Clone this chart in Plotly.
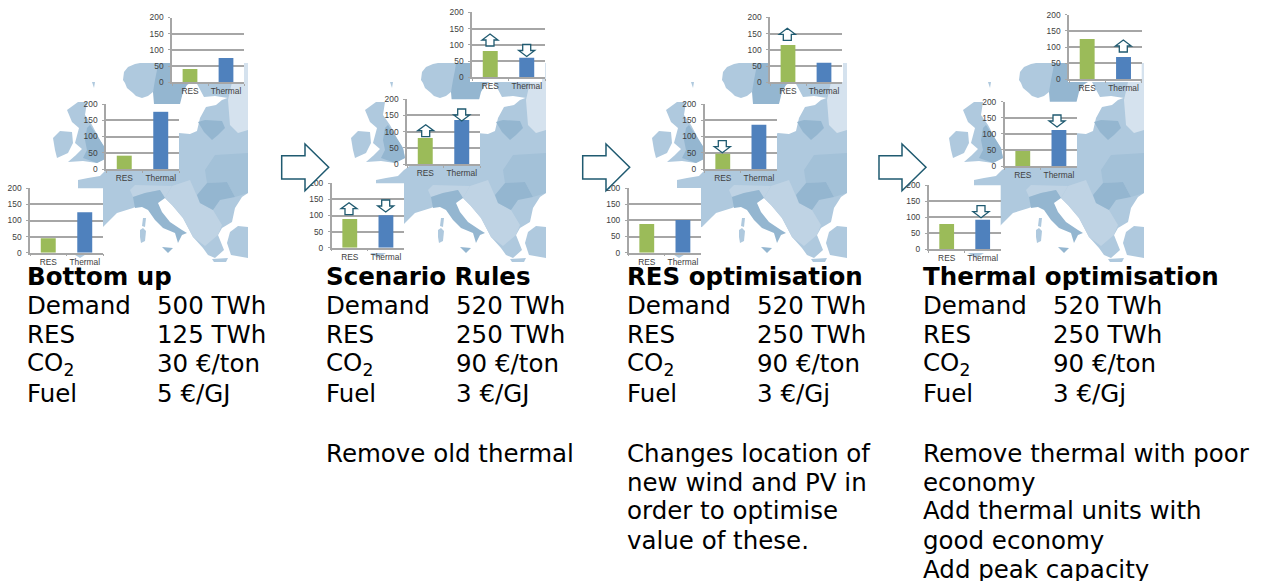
import plotly.graph_objects as go

W, H = 1264, 581

# ---------- data ----------
CATEGORIES = ["RES", "Thermal"]
Y_TICKS = [0, 50, 100, 150, 200]

BOTTOM_UP_TOP = [41, 75]
BOTTOM_UP_MID = [41, 176]
BOTTOM_UP_LOW = [45, 126]
SCENARIO_TOP = [81, 60]
SCENARIO_MID = [80, 136]
SCENARIO_LOW = [89, 101]
RES_OPT_TOP = [115, 60]
RES_OPT_MID = [47, 136]
RES_OPT_LOW = [89, 101]
THERMAL_OPT_TOP = [125, 69]
THERMAL_OPT_MID = [47, 112]
THERMAL_OPT_LOW = [79, 92]

ROW_LABELS = ["Demand", "RES", "CO<sub>2</sub>", "Fuel"]
TITLES = ["Bottom up", "Scenario Rules", "RES optimisation", "Thermal optimisation"]
VALUES = [
    ["500 TWh", "125 TWh", "30 €/ton", "5 €/GJ"],
    ["520 TWh", "250 TWh", "90 €/ton", "3 €/GJ"],
    ["520 TWh", "250 TWh", "90 €/ton", "3 €/Gj"],
    ["520 TWh", "250 TWh", "90 €/ton", "3 €/Gj"],
]
NOTES = [
    [],
    ["Remove old thermal"],
    ["Changes location of", "new wind and PV in", "order to optimise", "value of these."],
    ["Remove thermal with poor", "economy", "Add thermal units with", "good economy", "Add peak capacity"],
]

# ---------- layout geometry (pixels) ----------
# chart boxes: left, right, y of 200, y of 0
CHARTS = [
    (172, 244, 17.5, 82.3, BOTTOM_UP_TOP), (106, 179, 104, 169, BOTTOM_UP_MID), (30, 103, 188.3, 252.7, BOTTOM_UP_LOW),
    (472, 545, 12.3, 77.3, SCENARIO_TOP), (407, 480, 99.3, 164, SCENARIO_MID), (331.7, 404, 183.3, 247.7, SCENARIO_LOW),
    (770, 842, 17.3, 82.3, RES_OPT_TOP), (704.7, 777, 104, 169, RES_OPT_MID), (628.7, 701, 188, 252.7, RES_OPT_LOW),
    (1069, 1141.7, 14.7, 79.3, THERMAL_OPT_TOP), (1004.7, 1077, 101.7, 166, THERMAL_OPT_MID), (928.7, 1000.7, 185.3, 249.3, THERMAL_OPT_LOW),
]
TEXT_X = [(26, 156), (325, 455), (626, 756), (922, 1052)]
ROW_Y = [276, 305, 334.5, 363.5, 393]
NOTE_Y = [453, 482, 511, 540, 569]
MAP_OFFSET = [0, 298, 599, 896]
BIG_ARROWS = [(281.7, 305, 328.7), (582.7, 606, 629.7), (879, 902, 926)]
# small arrows: centre x, top y, "u"/"d"
SMALL_ARROWS = [
    (490, 34, "u"), (526.7, 44.5, "d"), (425.7, 124.7, "u"), (461.7, 109, "d"), (349, 202.7, "u"), (385.7, 200, "d"),
    (787.3, 28.3, "u"), (722.3, 140.7, "d"),
    (1123.3, 40, "u"), (1057, 115, "d"), (981, 205.7, "d"),
]

# ---------- decorative map outlines, in pixels of the first panel ----------
BASE = "#AFC9DE"
DARK = "#94B6D0"
MID = "#A3C1D8"
LIGHT = "#BFD3E4"
PALE = "#D5E2EE"
MAP_REGIONS = [
    (BASE, [(123, 80), (124, 72), (128, 67), (135, 64), (140, 63), (162, 63), (172, 63), (172, 82), (158, 82), (153, 92),
            (148, 96), (142, 98), (136, 96), (133, 93), (127, 88), (125, 83)]),
    (DARK, [(158, 63), (172, 63), (172, 82), (192, 82), (187, 85), (183, 92), (180, 104), (154, 104), (153, 92), (155, 80), (157, 70)]),
    (BASE, [(196, 82), (240, 82), (246, 95), (228, 98), (215, 96), (204, 97)]),
    (BASE, [(78, 180), (88, 178), (100, 176), (106, 170), (120, 160), (179, 133), (190, 134), (197, 131), (200, 118),
            (206, 107), (216, 105), (222, 100), (230, 97), (248, 95), (248, 193), (242, 197), (235, 208), (232, 222),
            (222, 228), (218, 235), (224, 250), (215, 258), (208, 255), (203, 248), (193, 237), (183, 218), (172, 205),
            (165, 198), (150, 200), (133, 208), (117, 213), (103, 227), (95, 228), (80, 215), (78, 200)]),
    (PALE, [(244, 63), (248, 63), (248, 130), (238, 133), (230, 125), (228, 100), (232, 82), (244, 82)]),
    (MID, [(205, 170), (215, 155), (248, 153), (248, 193), (235, 197), (227, 182), (207, 183)]),
    (LIGHT, [(165, 198), (172, 186), (190, 180), (200, 203), (213, 210), (222, 225), (218, 235), (205, 246), (193, 237), (183, 218), (172, 205)]),
    (LIGHT, [(130, 190), (135, 185), (172, 186), (165, 198), (160, 190), (145, 193), (133, 197)]),
    (DARK, [(197, 195), (207, 183), (227, 182), (235, 197), (220, 200), (213, 210), (200, 203)]),
    (DARK, [(198, 122), (205, 120), (222, 121), (225, 128), (218, 135), (212, 140), (204, 132)]),
    (DARK, [(133, 197), (145, 193), (160, 190), (165, 198), (158, 203), (162, 212), (170, 222), (182, 230), (187, 233),
            (182, 235), (178, 243), (175, 233), (163, 228), (155, 220), (148, 210), (142, 207), (135, 208)]),
    (DARK, [(162, 247), (173, 248), (168, 253)]),
    (BASE, [(140, 230), (143, 228), (146, 231), (145, 241), (141, 243), (140, 237)]),
    (BASE, [(143, 218), (146, 218), (145, 227), (142, 226)]),
    (BASE, [(248, 227), (238, 226), (230, 232), (227, 243), (231, 255), (248, 258)]),
    (BASE, [(212, 259), (228, 258), (226, 262), (214, 262)]),
    (BASE, [(72, 253), (88, 253), (80, 258)]),
    (BASE, [(78, 102), (87, 102), (85, 115), (92, 125), (100, 140), (105, 148), (107, 158), (97, 163), (83, 161), (68, 162),
            (76, 155), (82, 149), (75, 143), (79, 128), (72, 122), (67, 110)]),
    (DARK, [(90, 125), (100, 140), (105, 148), (107, 158), (97, 163), (83, 158), (87, 150), (85, 140), (87, 128)]),
    (BASE, [(53, 138), (60, 131), (72, 132), (73, 143), (68, 153), (57, 158), (55, 150)]),
    (BASE, [(92, 82), (95, 82), (94, 88)]),
]


def px(x):
    return x / W


def py(y):
    return 1 - y / H


def path(points):
    return "M" + "L".join(f"{px(x):.5f},{py(y):.5f}" for x, y in points) + "Z"


shapes = []
for off in MAP_OFFSET:
    for color, pts in MAP_REGIONS:
        shapes.append(dict(type="path", xref="paper", yref="paper", layer="below",
                           path=path([(x + off, y) for x, y in pts]),
                           fillcolor=color, line=dict(width=0)))

fig = go.Figure()
layout = {}
TICK_FONT = dict(family="Liberation Sans", size=8.4, color="#404040")
GRID = "#A6A6A6"
for i, (left, right, top, bottom, values) in enumerate(CHARTS):
    n = "" if i == 0 else str(i + 1)
    fig.add_trace(go.Bar(x=CATEGORIES, y=values, width=0.41,
                         marker=dict(color=["#9BBB59", "#4F81BD"], line=dict(width=0)),
                         xaxis="x" + n, yaxis="y" + n, showlegend=False))
    layout["xaxis" + n] = dict(
        domain=[px(left), px(right)], anchor="y" + n, type="category", tickson="boundaries", automargin=False,
        ticks="outside", ticklen=2, tickcolor=GRID, showline=True, linecolor=GRID, linewidth=1.5,
        showgrid=False, tickangle=0, tickfont=TICK_FONT)
    layout["yaxis" + n] = dict(
        domain=[py(bottom), py(top)], anchor="x" + n, range=[0, 200], tickvals=Y_TICKS, automargin=False,
        ticks="outside", ticklen=2, tickcolor=GRID, showline=True, linecolor=GRID, linewidth=1.5,
        showgrid=True, gridcolor=GRID, gridwidth=1.5, zeroline=False, ticklabelstandoff=3,
        tickfont=TICK_FONT)
    shapes.append(dict(type="rect", xref="paper", yref="paper", layer="below",
                       x0=px(left), x1=px(right), y0=py(bottom), y1=py(top),
                       fillcolor="white", line=dict(width=0)))

ARROW = "#1F5A70"
for x0, xb, xt in BIG_ARROWS:
    pts = [(x0, 155.7), (xb, 155.7), (xb, 144), (xt, 167.3), (xb, 190.7), (xb, 179), (x0, 179)]
    shapes.append(dict(type="path", xref="paper", yref="paper", path=path(pts),
                       fillcolor="white", line=dict(color=ARROW, width=1.5)))
for cx, y, kind in SMALL_ARROWS:
    if kind == "u":
        pts = [(cx, y), (cx + 8, y + 6), (cx + 4, y + 6), (cx + 4, y + 12), (cx - 4, y + 12), (cx - 4, y + 6), (cx - 8, y + 6)]
    else:
        pts = [(cx, y + 12), (cx + 8, y + 6), (cx + 4, y + 6), (cx + 4, y), (cx - 4, y), (cx - 4, y + 6), (cx - 8, y + 6)]
    shapes.append(dict(type="path", xref="paper", yref="paper", path=path(pts),
                       fillcolor="white", line=dict(color=ARROW, width=1.3)))

FONT = "DejaVu Sans"
annotations = []


def add_text(x, y, text, bold=False):
    annotations.append(dict(xref="paper", yref="paper", x=px(x), y=py(y), text=f"<b>{text}</b>" if bold else text,
                            xanchor="left", yanchor="middle", showarrow=False, align="left",
                            borderpad=0, font=dict(family=FONT, size=24.5, color="black")))


for p in range(4):
    x1, x2 = TEXT_X[p]
    add_text(x1, ROW_Y[0], TITLES[p], bold=True)
    for r in range(4):
        add_text(x1, ROW_Y[r + 1], ROW_LABELS[r])
        add_text(x2, ROW_Y[r + 1], VALUES[p][r])
    for j, line in enumerate(NOTES[p]):
        add_text(x1, NOTE_Y[j], line)

fig.update_layout(width=W, height=H, margin=dict(l=0, r=0, t=0, b=0), paper_bgcolor="white", plot_bgcolor="rgba(0,0,0,0)",
                  shapes=shapes, annotations=annotations, showlegend=False, **layout)
fig.write_html("out.html", config=dict(displayModeBar=False),
               post_script="document.body.style.margin='0';document.documentElement.style.overflow='hidden';")
